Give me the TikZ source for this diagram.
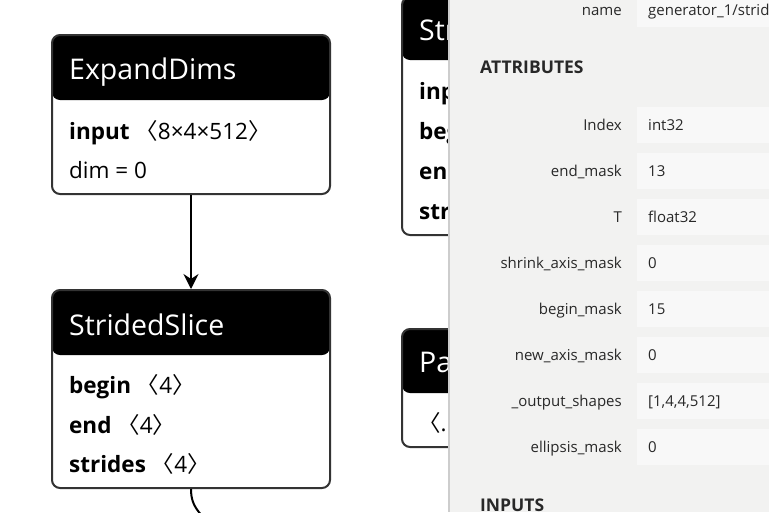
\documentclass[tikz,border=0pt]{standalone}
\usepackage{fontspec}
\setmainfont{Open Sans}
\newfontfamily\cjk{Noto Sans CJK SC}
\usetikzlibrary{arrows.meta}

\definecolor{panelgris}{RGB}{242,242,241}
\definecolor{valorgris}{RGB}{248,248,248}
\definecolor{bordegris}{RGB}{51,51,51}
\definecolor{textogris}{RGB}{40,40,40}
\definecolor{lineagris}{RGB}{205,205,205}

\newcommand{\ang}[1]{\ {\cjk 〈}#1{\cjk 〉}}

\tikzset{
  caja/.style={draw=bordegris, line width=2pt, rounded corners=8pt, fill=white, inner sep=0pt,
    path picture={\fill[black] (path picture bounding box.north west) rectangle ([yshift=-#1]path picture bounding box.north east);}},
  titulo/.style={anchor=base west, text=white, font=\fontsize{28.5}{28.5}\selectfont, inner sep=0pt},
  linea/.style={anchor=base west, font=\fontsize{22.5}{22.5}\selectfont, inner sep=0pt},
  etiqueta/.style={anchor=base east, text=textogris, font=\fontsize{15}{15}\selectfont, inner sep=0pt},
  valor/.style={anchor=base west, text=textogris, font=\fontsize{15}{15}\selectfont, inner sep=0pt},
  seccion/.style={anchor=base west, text=textogris, font=\bfseries\fontsize{17.5}{17.5}\selectfont, inner sep=0pt},
}

\begin{document}
\begin{tikzpicture}[x=1pt, y=-1pt]
      \useasboundingbox (0,0) rectangle (769,512);

      % ExpandDims
      \node[caja=65pt, minimum width=278pt, minimum height=159pt] (expand) at (191,114.5) {};
      \node[titulo] (expandtit) at (69,79) {ExpandDims};
      \node[linea] (expandin) at (69,139) {\textbf{input}\ang{8×4×512}};
      \node[linea] (expanddim) at (69,178) {dim = 0};

      % StridedSlice
      \node[caja=65pt, minimum width=278pt, minimum height=198pt] (strided) at (191,389) {};
      \node[titulo] (stridedtit) at (69,335) {StridedSlice};
      \node[linea] (stridedbeg) at (69,393) {\textbf{begin}\ang{4}};
      \node[linea] (stridedend) at (69,433) {\textbf{end}\ang{4}};
      \node[linea] (stridedstr) at (69,472) {\textbf{strides}\ang{4}};

      % Otros nodos
      \node[caja=63pt, minimum width=278pt, minimum height=238pt] (otro) at (541,116) {};
      \node[titulo] (otrotit) at (419,40) {StridedSlice};
      \node[linea] (otroin) at (419,99) {\textbf{input}};
      \node[linea] (otrobeg) at (419,139) {\textbf{begin}};
      \node[linea] (otroend) at (419,179) {\textbf{end}};
      \node[linea] (otrostr) at (419,219) {\textbf{strides}};

      \node[caja=64pt, minimum width=218pt, minimum height=118pt] (pad) at (511,388) {};
      \node[titulo] (padtit) at (419,372) {Pad};
      \node[linea] (padin) at (412,431) {\ang{...}};

      % Flechas
      \coordinate (sig) at (228,540);
      \draw[line width=2pt, -{Stealth[length=15pt, width=15pt, inset=5pt]}] (expand) -- (strided);
      \draw[line width=2pt] (strided.south) .. controls (191,508) and (200,515) .. (sig);

      % Panel
      \fill[panelgris] (448,0) rectangle (769,512);
      \draw[lineagris, line width=2pt] (449,0) -- (449,512);

      \fill[valorgris] (637,-9) rectangle (769,27);
      \node[etiqueta] (nombre) at (622,15) {name};
      \node[valor] (nombreval) at (648,15) {generator\_1/strided\_slice};

      \node[seccion] (atributos) at (480,73) {ATTRIBUTES};

      \fill[valorgris] (637,107) rectangle (769,143);
      \node[etiqueta] (index) at (622,130) {Index};
      \node[valor] (indexval) at (648,130) {int32};

      \fill[valorgris] (637,153) rectangle (769,189);
      \node[etiqueta] (endmask) at (622,176) {end\_mask};
      \node[valor] (endmaskval) at (648,176) {13};

      \fill[valorgris] (637,199) rectangle (769,235);
      \node[etiqueta] (tipo) at (622,222) {T};
      \node[valor] (tipoval) at (648,222) {float32};

      \fill[valorgris] (637,245) rectangle (769,281);
      \node[etiqueta] (shrink) at (622,268) {shrink\_axis\_mask};
      \node[valor] (shrinkval) at (648,268) {0};

      \fill[valorgris] (637,291) rectangle (769,327);
      \node[etiqueta] (beginmask) at (622,314) {begin\_mask};
      \node[valor] (beginmaskval) at (648,314) {15};

      \fill[valorgris] (637,337) rectangle (769,373);
      \node[etiqueta] (newaxis) at (622,360) {new\_axis\_mask};
      \node[valor] (newaxisval) at (648,360) {0};

      \fill[valorgris] (637,383) rectangle (769,419);
      \node[etiqueta] (outshapes) at (622,406) {\_output\_shapes};
      \node[valor] (outshapesval) at (648,406) {[1,4,4,512]};

      \fill[valorgris] (637,429) rectangle (769,465);
      \node[etiqueta] (ellipsis) at (622,452) {ellipsis\_mask};
      \node[valor] (ellipsisval) at (648,452) {0};

      \node[seccion] (entradas) at (480,511) {INPUTS};
    \end{tikzpicture}
\end{document}
